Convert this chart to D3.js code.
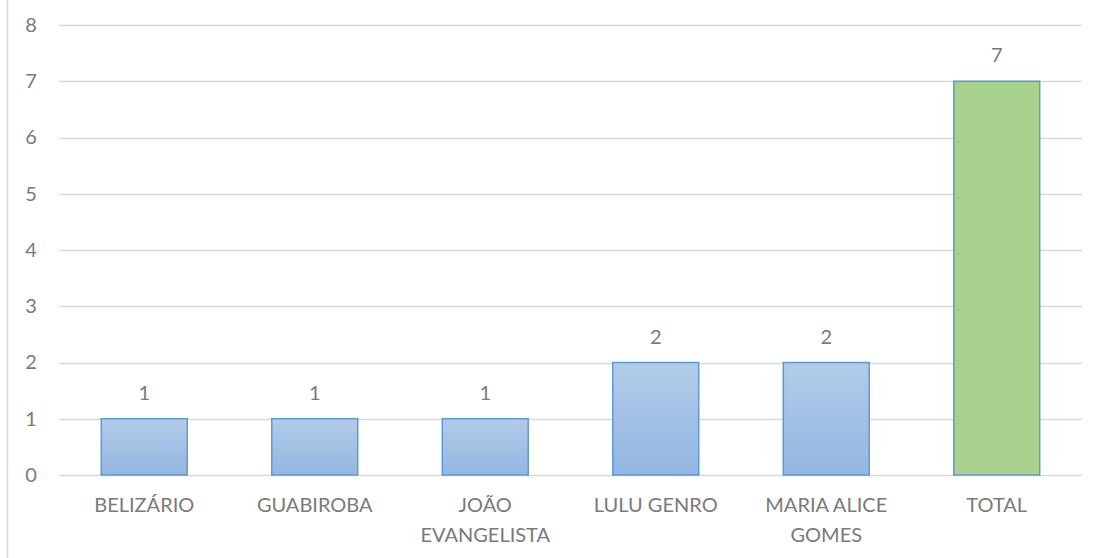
<!DOCTYPE html>
<html lang="pt-BR">
<head>
  <meta charset="UTF-8" />
  <title>Gráfico de barras</title>
  <style>
    body { margin: 0; background: #fff; }
    svg { display: block; }
    text { font-family: Lato, "Open Sans", Arial, sans-serif; fill: #7a7a7a; }
  </style>
  <script src="https://d3js.org/d3.v7.min.js"></script>
</head>
<body>
  <svg id="chart" width="1099" height="558"></svg>
  <script>
    // ---------- dados ----------
    const categories = [["BELIZÁRIO"], ["GUABIROBA"], ["JOÃO", "EVANGELISTA"], ["LULU GENRO"], ["MARIA ALICE", "GOMES"], ["TOTAL"]];
    const values = [1, 1, 1, 2, 2, 7];
    const yTicks = [0, 1, 2, 3, 4, 5, 6, 7, 8];

    const svg = d3.select("#chart");
    const width = 1099, height = 558;
    const margin = { top: 25, right: 17, bottom: 83, left: 59 };
    const fontSize = 20;

    // borda esquerda do quadro do gráfico
    svg.append("line")
      .attr("x1", 7.5).attr("x2", 7.5)
      .attr("y1", 0).attr("y2", height)
      .attr("stroke", "#d9d9d9").attr("stroke-width", 1.5);

    const x = d3.scaleBand()
      .domain(d3.range(categories.length))
      .range([margin.left, width - margin.right])
      .paddingInner(0.496).paddingOuter(0.248);

    const y = d3.scaleLinear()
      .domain([0, 8])
      .range([height - margin.bottom, margin.top]);

    // gradiente das barras azuis
    const defs = svg.append("defs");
    const grad = defs.append("linearGradient")
      .attr("id", "blueGrad").attr("x1", 0).attr("y1", 0).attr("x2", 0).attr("y2", 1);
    grad.append("stop").attr("offset", "0%").attr("stop-color", "#b3cbe9");
    grad.append("stop").attr("offset", "100%").attr("stop-color", "#93b6e2");

    // linhas de grade
    svg.append("g")
      .selectAll("line")
      .data(yTicks)
      .join("line")
      .attr("x1", margin.left).attr("x2", width - margin.right)
      .attr("y1", d => Math.round(y(d)) + 0.5).attr("y2", d => Math.round(y(d)) + 0.5)
      .attr("stroke", "#d9d9d9").attr("stroke-width", 1.5);

    // eixo y
    const yAxis = svg.append("g")
      .attr("transform", `translate(${margin.left - 24},0)`)
      .call(d3.axisLeft(y).tickValues(yTicks).tickSize(0).tickPadding(0));
    yAxis.select(".domain").remove();
    yAxis.selectAll("text")
      .attr("font-size", fontSize).style("font-family", "Lato, 'Open Sans', Arial, sans-serif")
      .attr("fill", "#7a7a7a").attr("text-anchor", "middle").attr("dx", -4);

    // barras
    svg.append("g")
      .selectAll("rect")
      .data(values)
      .join("rect")
      .attr("x", (d, i) => x(i))
      .attr("y", d => y(d))
      .attr("width", x.bandwidth())
      .attr("height", d => y(0) - y(d))
      .attr("fill", (d, i) => i === values.length - 1 ? "#a9d18e" : "url(#blueGrad)")
      .attr("stroke", "#5b9bd5")
      .attr("stroke-width", 1.5);

    // rótulos de dados
    svg.append("g")
      .selectAll("text")
      .data(values)
      .join("text")
      .attr("x", (d, i) => x(i) + x.bandwidth() / 2)
      .attr("y", d => y(d) - 19)
      .attr("text-anchor", "middle")
      .attr("font-size", fontSize)
      .text(d => d);

    // rótulos de categoria
    const catLabels = svg.append("g")
      .selectAll("text")
      .data(categories)
      .join("text")
      .attr("x", (d, i) => x(i) + x.bandwidth() / 2)
      .attr("y", y(0) + 37)
      .attr("text-anchor", "middle")
      .attr("font-size", fontSize);
    catLabels.selectAll("tspan")
      .data(d => d)
      .join("tspan")
      .attr("x", function () { return this.parentNode.getAttribute("x"); })
      .attr("dy", (d, i) => i === 0 ? 0 : 30)
      .text(d => d);
  </script>
</body>
</html>
